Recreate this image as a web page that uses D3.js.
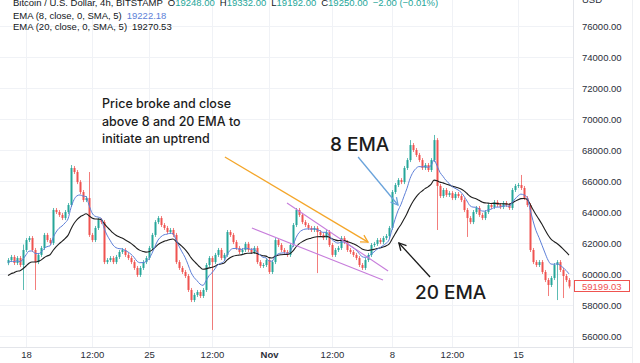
<!DOCTYPE html>
<html>
<head>
<meta charset="utf-8">
<script src="https://cdn.jsdelivr.net/npm/d3@7"></script>
<style>
  body { margin: 0; background: #fff; }
  svg { display: block; font-family: "Liberation Sans", Arial, sans-serif; }
</style>
</head>
<body>
<svg id="chart" width="640" height="363"></svg>
<script>
// 4h closes (first candle on the left)
const closes = [
  60900, 61100, 60710, 61030, 60580, 61550, 62190, 62320, 61550, 60770,
  61230, 61680, 62520, 62190, 62000, 64130, 64000, 63810, 63610, 64000,
  64450, 66840, 66580, 65930, 65290, 64770, 64900, 62520, 62190, 62970,
  63480, 63350, 60770, 60900, 61030, 60770, 61100, 61420, 61550, 61230,
  61030, 60770, 60390, 59940, 60390, 60770, 61030, 61680, 62520, 63350,
  63610, 63160, 62970, 62710, 62840, 62520, 60770, 60390, 60130, 59870,
  58970, 58320, 58650, 58840, 58580, 58970, 60580, 61030, 60770, 61230,
  61550, 61030, 61230, 62710, 62520, 62060, 61680, 61420, 61550, 61940,
  61550, 61420, 61680, 60770, 60520, 60580, 60900, 60130, 60770, 62190,
  61870, 61550, 61420, 61230, 61870, 63160, 64130, 63810, 63350, 63160,
  62970, 62840, 62970, 62710, 62520, 62320, 62710, 61870, 61230, 61550,
  61680, 62320, 62060, 61550, 61420, 61230, 61030, 60580, 60390, 60900,
  61230, 61870, 61940, 62190, 62060, 62320, 62450, 62970, 65290, 65740,
  66060, 65930, 66840, 67350, 68320, 68000, 67680, 67350, 66840, 67030,
  66710, 67350, 68640, 65680, 65030, 65420, 65100, 65220, 64900, 65160,
  65030, 64770, 64130, 63610, 63350, 64000, 64260, 63810, 63610, 64000,
  64450, 64320, 64640, 64450, 64320, 64580, 64450, 64260, 65420, 65680,
  65740, 65550, 64900, 64450, 61550, 60770, 60580, 60770, 60130, 59610,
  59290, 59740, 60580, 60770, 60260, 59870, 59610, 59199.03
];
const firstOpen = 60700;

// the longer wicks that stand out: [candle index, price]
const highWicks = [[5, 61900], [21, 67030], [27, 66580], [134, 68640], [142, 68970], [171, 66390]];
const lowWicks = [[5, 58970], [9, 58970], [68, 56390], [103, 60060], [143, 62840],
  [153, 62390], [180, 58580], [183, 58320], [185, 58450]];

// EMA values at the left edge of the picture
const ema8Start = 60700;
const ema20Start = 59800;

const priceTicks = [56000, 58000, 60000, 62000, 64000, 66000, 68000, 70000, 72000, 74000, 76000];
const timeTicks = [6, 28, 47, 68, 87, 108, 128, 148, 170];
const timeLabels = ["18", "12:00", "25", "12:00", "Nov", "12:00", "8", "12:00", "15"];
const lastPrice = 59199.03;

const upColor = "#26a69a", downColor = "#ef5350";

let svg = d3.select("#chart"),
  plotRight = 573,
  plotBottom = 347;

let x = d3.scaleLinear().domain([0, closes.length - 1]).range([8, 569]),
  y = d3.scaleLinear().domain([56000, 76000]).range([336, 26]);

// grid
let grid = svg.append("g");
grid.selectAll(".hg").data(priceTicks).enter().append("line")
  .attr("x1", 0).attr("x2", plotRight)
  .attr("y1", d => Math.round(y(d)) + 0.5).attr("y2", d => Math.round(y(d)) + 0.5)
  .attr("stroke", "#f0f2f6");
grid.selectAll(".vg").data(timeTicks).enter().append("line")
  .attr("x1", d => Math.round(x(d)) + 0.5).attr("x2", d => Math.round(x(d)) + 0.5)
  .attr("y1", 0).attr("y2", plotBottom)
  .attr("stroke", "#f0f2f6");

// axis borders
svg.append("line").attr("x1", plotRight + 0.5).attr("x2", plotRight + 0.5)
  .attr("y1", 0).attr("y2", 363).attr("stroke", "#e3e5ea");
svg.append("line").attr("x1", 0).attr("x2", 632)
  .attr("y1", plotBottom + 0.5).attr("y2", plotBottom + 0.5).attr("stroke", "#e3e5ea");
svg.append("line").attr("x1", 632.5).attr("x2", 632.5)
  .attr("y1", 0).attr("y2", 363).attr("stroke", "#eef0f3");

// candles
let hiMap = new Map(highWicks), loMap = new Map(lowWicks);
let candles = closes.map((c, i) => {
  let o = i ? closes[i - 1] : firstOpen;
  return { i: i, o: o, c: c, h: hiMap.get(i), l: loMap.get(i) };
});

let cg = svg.append("g");
candles.forEach(d => {
  let cx = Math.round(x(d.i));
  let col = d.c >= d.o ? upColor : downColor;
  let top = y(Math.max(d.o, d.c)), bot = y(Math.min(d.o, d.c));
  let wTop = d.h ? y(d.h) : top - 2;
  let wBot = d.l ? y(d.l) : bot + 2;
  cg.append("rect").attr("x", cx).attr("y", wTop).attr("width", 1)
    .attr("height", wBot - wTop).attr("fill", col).attr("opacity", 0.75);
  cg.append("rect").attr("x", cx - 0.5).attr("y", top).attr("width", 2)
    .attr("height", Math.max(1, bot - top)).attr("fill", col);
});

// EMAs from the closes
function ema(vals, n, start) {
  let k = 2 / (n + 1), e = start;
  return vals.map(v => (e = v * k + e * (1 - k)));
}
let line = d3.line().x((d, i) => x(i)).y(d => y(d)).curve(d3.curveMonotoneX);
svg.append("path").datum(ema(closes, 20, ema20Start)).attr("d", line)
  .attr("fill", "none").attr("stroke", "#1e1e1e").attr("stroke-width", 1.1);
svg.append("path").datum(ema(closes, 8, ema8Start)).attr("d", line)
  .attr("fill", "none").attr("stroke", "#5d7fd8").attr("stroke-width", 1);

// price axis
let yAxis = svg.append("g").attr("transform", "translate(" + plotRight + ",0)")
  .call(d3.axisRight(y).tickValues(priceTicks).tickFormat(d3.format(".2f")).tickSize(0).tickPadding(9));
yAxis.select(".domain").remove();
yAxis.selectAll("text").attr("font-size", 9.5).attr("fill", "#2a2e39")
  .attr("font-family", "'Liberation Sans', Arial, sans-serif");

svg.append("text").attr("x", 582).attr("y", 3).attr("font-size", 9.5).attr("fill", "#2a2e39").text("USD");

// last price tag
svg.append("rect").attr("x", 574.5).attr("y", Math.round(y(lastPrice)) - 5.5)
  .attr("width", 55).attr("height", 11).attr("fill", "#fff").attr("stroke", downColor);
svg.append("text").attr("x", 582).attr("y", y(lastPrice)).attr("dy", "0.35em")
  .attr("font-size", 9.5).attr("fill", downColor).text(d3.format(".2f")(lastPrice));

// time axis
let xAxis = svg.append("g").attr("transform", "translate(0," + plotBottom + ")")
  .call(d3.axisBottom(x).tickValues(timeTicks).tickFormat((d, i) => timeLabels[i]).tickSize(0).tickPadding(4));
xAxis.select(".domain").remove();
xAxis.selectAll("text").attr("font-size", 9.5).attr("fill", "#2a2e39")
  .attr("font-family", "'Liberation Sans', Arial, sans-serif")
  .attr("font-weight", (d, i) => timeLabels[i] == "Nov" ? "bold" : null);

// legend at the top
let head = svg.append("text").attr("x", 13).attr("y", 6).attr("font-size", 9.5).attr("fill", "#131722");
head.append("tspan").text("Bitcoin / U.S. Dollar, 4h, BITSTAMP");
[["O", "19248.00"], ["H", "19332.00"], ["L", "19192.00"], ["C", "19250.00"]].forEach(p => {
  head.append("tspan").attr("dx", 5).text(p[0]);
  head.append("tspan").attr("fill", upColor).text(p[1]);
});
head.append("tspan").attr("dx", 5).attr("fill", upColor).text("\u22122.00 (\u22120.01%)");

let l2 = svg.append("text").attr("x", 13).attr("y", 19).attr("font-size", 9.5).attr("fill", "#131722");
l2.append("tspan").text("EMA (8, close, 0, SMA, 5)");
l2.append("tspan").attr("dx", 5).attr("fill", "#5d7fd8").text("19222.18");
let l3 = svg.append("text").attr("x", 13).attr("y", 30).attr("font-size", 9.5).attr("fill", "#131722");
l3.append("tspan").text("EMA (20, close, 0, SMA, 5)");
l3.append("tspan").attr("dx", 5).text("19270.53");

// annotations, in candle index / price
const channel = [
  [[93, 64580], [126.7, 60190]],
  [[81.3, 62970], [125, 59610]]
];
const arrows = [
  { color: "#f4a62a", from: [72.3, 67550], to: [120, 62060] },
  { color: "#6aa3db", from: [116.7, 67550], to: [130, 64450] },
  { color: "#1a1a1a", from: [140.7, 59810], to: [130.3, 62000] }
];

channel.forEach(s => {
  svg.append("line")
    .attr("x1", x(s[0][0])).attr("y1", y(s[0][1]))
    .attr("x2", x(s[1][0])).attr("y2", y(s[1][1]))
    .attr("stroke", "#c77ddb").attr("stroke-width", 1.1);
});

arrows.forEach(a => {
  let x1 = x(a.from[0]), y1 = y(a.from[1]), x2 = x(a.to[0]), y2 = y(a.to[1]);
  let ang = Math.atan2(y2 - y1, x2 - x1), len = 8;
  svg.append("line").attr("x1", x1).attr("y1", y1).attr("x2", x2).attr("y2", y2)
    .attr("stroke", a.color).attr("stroke-width", 1.3);
  let p = [ang + 0.5, ang - 0.5].map(t => [x2 - len * Math.cos(t), y2 - len * Math.sin(t)]);
  svg.append("path")
    .attr("d", "M" + p[0] + "L" + x2 + "," + y2 + "L" + p[1])
    .attr("fill", "none").attr("stroke", a.color).attr("stroke-width", 1.3);
});

let note = svg.append("g").attr("font-family", "Inter, 'Noto Sans', sans-serif").attr("fill", "#1c1c1c");
["Price broke and close", "above 8 and 20 EMA to", "initiate an uptrend"].forEach((t, i) => {
  note.append("text").attr("x", 102).attr("y", 108 + i * 17.5)
    .attr("font-size", 12.5).attr("font-weight", 500).text(t);
});
note.append("text").attr("x", 330).attr("y", 151).attr("font-size", 19).attr("font-weight", 500).text("8 EMA");
note.append("text").attr("x", 415).attr("y", 299).attr("font-size", 19).attr("font-weight", 500).text("20 EMA");
</script>
</body>
</html>
